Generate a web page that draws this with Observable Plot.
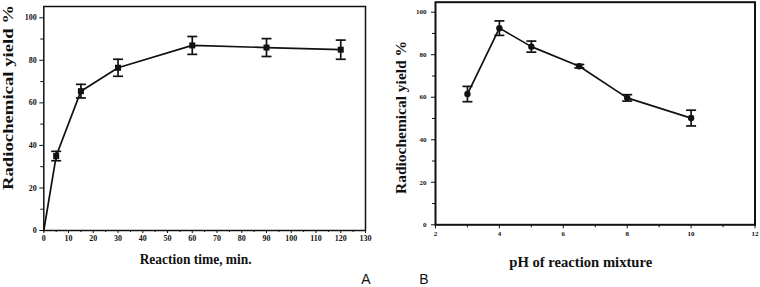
<!DOCTYPE html>
<html>
<head>
<meta charset="utf-8">
<script src="https://cdn.jsdelivr.net/npm/d3@7"></script>
<script src="https://cdn.jsdelivr.net/npm/@observablehq/plot@0.6"></script>
<style>
  html, body { margin: 0; padding: 0; background: #fff; }
  #wrap { position: relative; width: 760px; height: 287px; overflow: hidden; }
  #wrap > svg { position: absolute; top: 0; }
  #wrap svg text { font-family: "Liberation Serif", "Times New Roman", serif; font-weight: bold; }
  #wrap svg g.letter text { font-family: "Liberation Sans", Arial, sans-serif; font-weight: normal; }
</style>
</head>
<body>
<div id="wrap"></div>
<script>
// Panel A: reaction time
const timeMin = [0, 5, 15, 30, 60, 90, 120];
const yieldA = [0, 35, 65.5, 76.5, 87, 86, 85];
const errA = [0, 2.2, 3.2, 4.0, 4.2, 4.2, 4.5];
const xTicksA = [0, 10, 20, 30, 40, 50, 60, 70, 80, 90, 100, 110, 120, 130];
const xMinorA = [5, 15, 25, 35, 45, 55, 65, 75, 85, 95, 105, 115, 125];
const yTicks = [0, 20, 40, 60, 80, 100];
const yMinor = [10, 30, 50, 70, 90];
const xTitleA = "Reaction time, min.";
const yTitle = "Radiochemical yield %";

// Panel B: pH
const pH = [3, 4, 5, 6.5, 8, 10];
const yieldB = [61.5, 92.5, 83.8, 74.6, 59.7, 50.2];
const errB = [3.6, 3.4, 2.6, 0.8, 1.5, 3.7];
const xTicksB = [2, 4, 6, 8, 10, 12];
const xMinorB = [3, 5, 7, 9, 11];
const xTitleB = "pH of reaction mixture";

const dataA = timeMin.map((t, i) => ({x: t, y: yieldA[i], e: errA[i]}));
const dataB = pH.map((p, i) => ({x: p, y: yieldB[i], e: errB[i]}));

const cap = {draw(ctx, size) { const r = Math.sqrt(size / Math.PI); ctx.moveTo(-r, 0); ctx.lineTo(r, 0); }};
const ink = "#111";
const serif = "Liberation Serif";

function panel(o) {
  const pts = o.data.filter(d => d.x > 0);
  const svg = Plot.plot({
    width: 380, height: 287,
    marginLeft: o.ml, marginRight: o.mr, marginTop: o.mt, marginBottom: o.mb,
    style: {fontFamily: serif, fontWeight: "bold", fontSize: o.tickFont + "px", color: ink, background: "transparent"},
    x: {domain: o.xDomain},
    y: {domain: o.yDomain},
    marks: [
      Plot.axisX({ticks: o.xTicks, tickSize: o.tsx, tickPadding: o.tpx, label: null, tickFormat: d => String(d), fontFamily: serif, fontWeight: "bold", fontSize: o.tickFont}),
      Plot.axisX({ticks: o.xMinor, tickSize: o.tsx - 1, text: null, label: null}),
      Plot.axisY({ticks: yTicks, tickSize: o.tsy, tickPadding: o.tpy, label: null, tickFormat: d => String(d), fontFamily: serif, fontWeight: "bold", fontSize: o.tickFont}),
      Plot.axisY({ticks: yMinor, tickSize: o.tsy - 1, text: null, label: null}),
      Plot.frame({stroke: ink, strokeWidth: o.frameW}),
      Plot.line(o.data, {x: "x", y: "y", stroke: ink, strokeWidth: 1.7}),
      Plot.ruleX(pts, {x: "x", y1: d => d.y - d.e, y2: d => d.y + d.e, stroke: ink, strokeWidth: 1.7}),
      Plot.dot(pts, {x: "x", y: d => d.y + d.e, symbol: cap, r: 5, stroke: ink, strokeWidth: 1.7, fill: "none"}),
      Plot.dot(pts, {x: "x", y: d => d.y - d.e, symbol: cap, r: 5, stroke: ink, strokeWidth: 1.7, fill: "none"}),
      Plot.dot(pts, {x: "x", y: "y", symbol: o.symbol, r: o.r, fill: ink, stroke: "none"}),
      Plot.text([o.xTitle], {frameAnchor: "bottom", dx: o.xtdx, dy: o.xtdy, fontSize: 15, fontFamily: serif, fontWeight: "bold", textAnchor: "middle", lineAnchor: "middle", className: "xtitle"}),
      Plot.text([yTitle], {frameAnchor: "left", rotate: -90, dx: o.ytdx, dy: o.ytdy, fontSize: 15, fontFamily: serif, fontWeight: "bold", textAnchor: "middle", lineAnchor: "middle", className: "ytitle"}),
      Plot.text([o.letter], {frameAnchor: o.letterAnchor, dx: o.ldx, dy: o.ldy, fontSize: 14, fontWeight: "normal", fontFamily: "Liberation Sans", textAnchor: "middle", lineAnchor: "middle", className: "letter"})
    ]
  });
  svg.style.left = o.left + "px";
  if (o.xLen) d3.select(svg).selectAll(".xtitle text").attr("textLength", o.xLen).attr("lengthAdjust", "spacingAndGlyphs");
  if (o.yLen) d3.select(svg).selectAll(".ytitle text").attr("textLength", o.yLen).attr("lengthAdjust", "spacingAndGlyphs");
  document.getElementById("wrap").appendChild(svg);
}

panel({
  data: dataA, left: 0, ml: 43.3, mr: 15, mt: 6, mb: 57,
  xDomain: [0, 130], yDomain: [0, 105.3],
  xTicks: xTicksA, xMinor: xMinorA, tickFont: 8,
  tsx: 3, tpx: 2, tsy: 4, tpy: 3, frameW: 1.5,
  symbol: "square", r: 3.4,
  xTitle: xTitleA, xtdx: -9, xtdy: 29, xLen: 112,
  ytdx: -36, ytdy: -21, yLen: 185,
  letter: "A", letterAnchor: "bottom-right", ldx: 0.5, ldy: 49
});

panel({
  data: dataB, left: 380, ml: 55, mr: 5.5, mt: 1.7, mb: 62.7,
  xDomain: [2, 12], yDomain: [0, 104.7],
  xTicks: xTicksB, xMinor: xMinorB, tickFont: 7,
  tsx: 4, tpx: 2, tsy: 4, tpy: 5, frameW: 2,
  symbol: "circle", r: 3.2,
  xTitle: xTitleB, xtdx: -14.5, xtdy: 37.5, xLen: 143,
  ytdx: -34, ytdy: 4, yLen: 153,
  letter: "B", letterAnchor: "bottom-left", ldx: -11.5, ldy: 55
});
</script>
</body>
</html>
